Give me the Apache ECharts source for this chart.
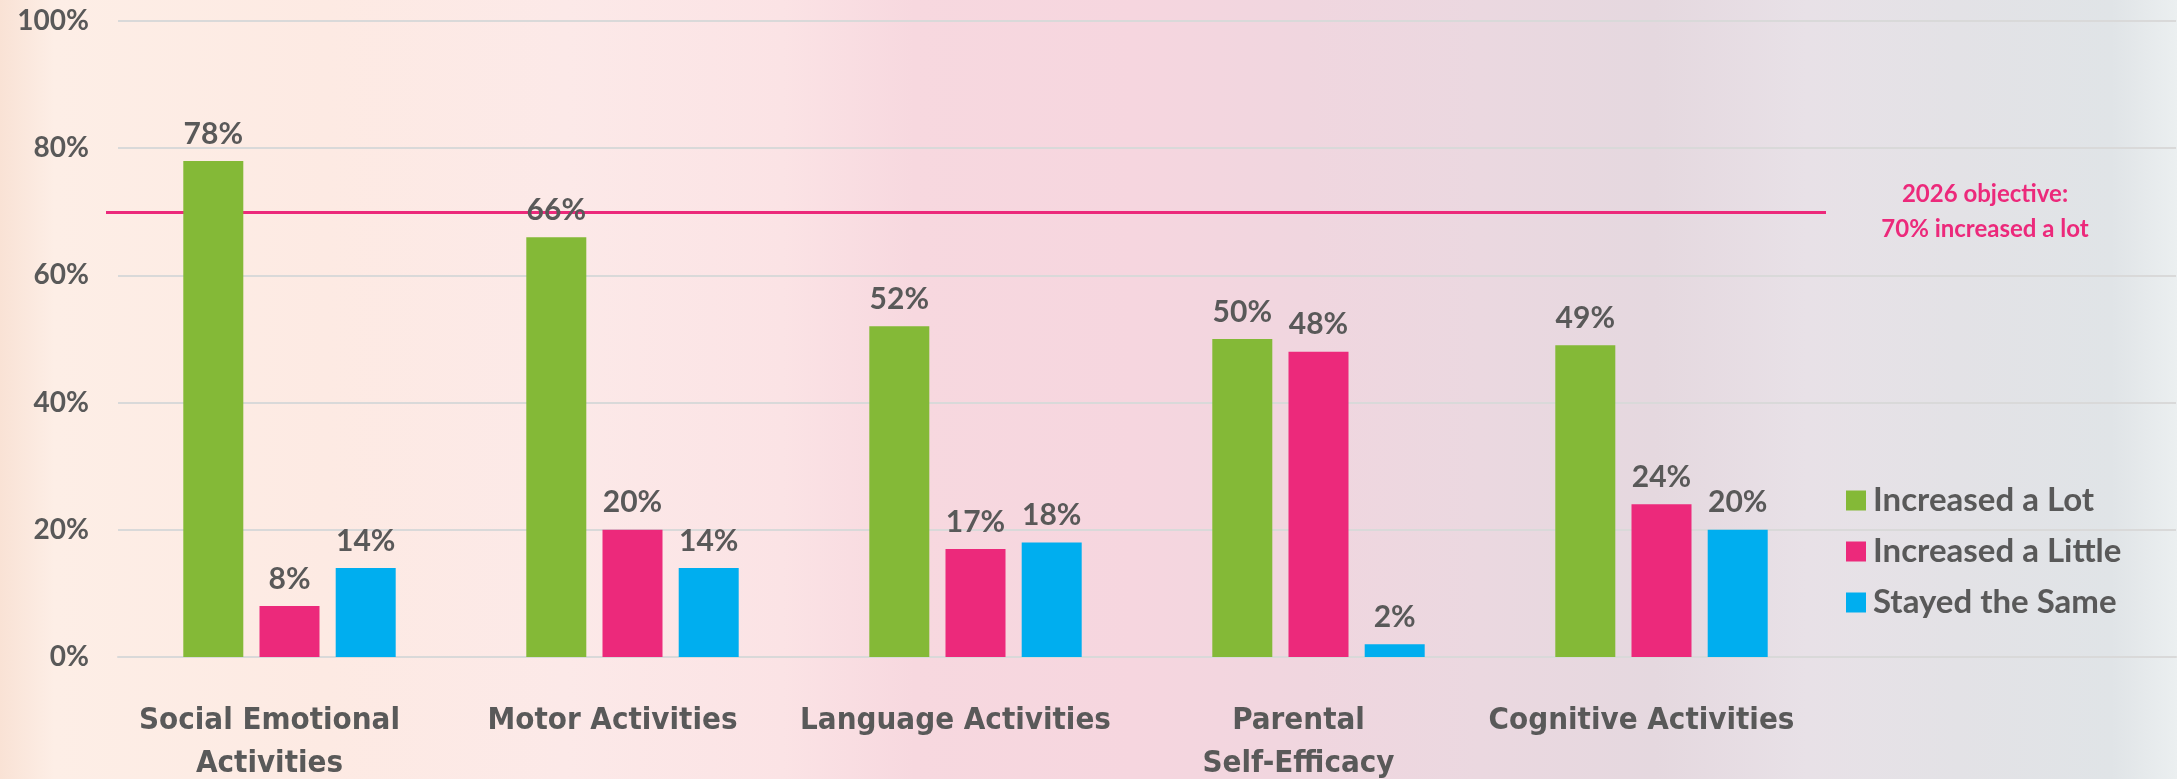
<!DOCTYPE html>
<html>
<head>
<meta charset="utf-8">
<script src="https://cdn.jsdelivr.net/npm/echarts@6/dist/echarts.min.js"></script>
<style>
  html, body { margin: 0; padding: 0; }
  #chart { width: 2177px; height: 779px; }
</style>
</head>
<body>
<div id="chart"></div>
<script>
// categories (last one is empty: room for the legend)
const categories = ['Social Emotional\nActivities', 'Motor Activities', 'Language Activities', 'Parental\nSelf-Efficacy', 'Cognitive Activities', '']
const increasedLot = [78, 66, 52, 50, 49, null]
const increasedLittle = [8, 20, 17, 48, 24, null]
const stayedSame = [14, 14, 18, 2, 20, null]
const yTicks = [0, 20, 40, 60, 80, 100]
const objective = 70

const textColor = '#595959'
const labelFont = 'Lato, "Open Sans", sans-serif'

const chart = echarts.init(document.getElementById('chart'))

const valueLabel = {
  show: true,
  position: 'top',
  distance: 12,
  color: textColor,
  fontFamily: labelFont,
  fontWeight: 'bold',
  fontSize: 30,
  formatter: p => p.value + '%'
}

function makeBar(name, values, color) {
  return {
    name: name,
    type: 'bar',
    data: values,
    barWidth: 60,
    barGap: '27%',
    itemStyle: { color: color },
    label: valueLabel
  }
}

const lotSeries = makeBar('Increased a Lot', increasedLot, '#84B937')
// objective line, drawn under the bars
lotSeries.markLine = {
  silent: true,
  z: 1,
  symbol: ['none', 'none'],
  lineStyle: { color: '#EC297B', width: 3, type: 'solid', opacity: 1 },
  label: {
    show: true,
    position: 'end',
    align: 'center',
    distance: 159,
    color: '#EC297B',
    fontFamily: labelFont,
    fontWeight: 'bold',
    fontSize: 24,
    lineHeight: 35,
    formatter: '2026 objective:\n' + objective + '% increased a lot'
  },
  data: [[
    { coord: [0, objective], x: 106 },
    { coord: [4, objective], x: 1826 }
  ]]
}

const option = {
  backgroundColor: new echarts.graphic.LinearGradient(0, 0, 1, 0, [
    { offset: 0, color: '#F9E2D5' },
    { offset: 0.025, color: '#FDEEE6' },
    { offset: 0.15, color: '#FDEAE3' },
    { offset: 0.26, color: '#FCE9E8' },
    { offset: 0.36, color: '#FBE3E5' },
    { offset: 0.42, color: '#F7D8DF' },
    { offset: 0.52, color: '#F6D6DF' },
    { offset: 0.6, color: '#F0D6DF' },
    { offset: 0.68, color: '#EBD8E0' },
    { offset: 0.76, color: '#E5D8DF' },
    { offset: 0.83, color: '#E8E1E7' },
    { offset: 0.9, color: '#E3E2E6' },
    { offset: 0.97, color: '#E0E4E7' },
    { offset: 1, color: '#EBEFF0' }
  ]),
  textStyle: { fontFamily: labelFont },
  grid: { left: 118, right: 1, top: 21, bottom: 122, outerBoundsMode: 'none', containLabel: false },
  legend: {
    orient: 'vertical',
    left: 1841,
    top: 477,
    itemWidth: 20,
    itemHeight: 20,
    itemGap: 14,
    icon: 'rect',
    textStyle: {
      color: textColor,
      fontFamily: labelFont,
      fontWeight: 'bold',
      fontSize: 33,
      lineHeight: 37,
      padding: [0, 0, 0, 2]
    },
    data: ['Increased a Lot', 'Increased a Little', 'Stayed the Same']
  },
  xAxis: {
    type: 'category',
    data: categories,
    axisTick: { show: false },
    axisLine: { lineStyle: { color: '#D9D9D9', width: 2 } },
    axisLabel: {
      interval: 0,
      margin: 42,
      padding: [0, 40, 0, 0],
      color: textColor,
      fontFamily: '"Liberation Sans Narrow", "DejaVu Sans Condensed", sans-serif',
      fontWeight: 'bold',
      fontSize: 31,
      lineHeight: 43
    }
  },
  yAxis: {
    type: 'value',
    min: yTicks[0],
    max: yTicks[yTicks.length - 1],
    interval: yTicks[1] - yTicks[0],
    axisLine: { show: false },
    axisTick: { show: false },
    splitLine: { lineStyle: { color: '#D9D9D9', width: 2 } },
    axisLabel: {
      margin: 29,
      color: textColor,
      fontFamily: labelFont,
      fontWeight: 'bold',
      fontSize: 28,
      formatter: '{value}%'
    }
  },
  series: [
    lotSeries,
    makeBar('Increased a Little', increasedLittle, '#EC297B'),
    makeBar('Stayed the Same', stayedSame, '#00AEEF')
  ]
}

chart.setOption(option)
</script>
</body>
</html>
